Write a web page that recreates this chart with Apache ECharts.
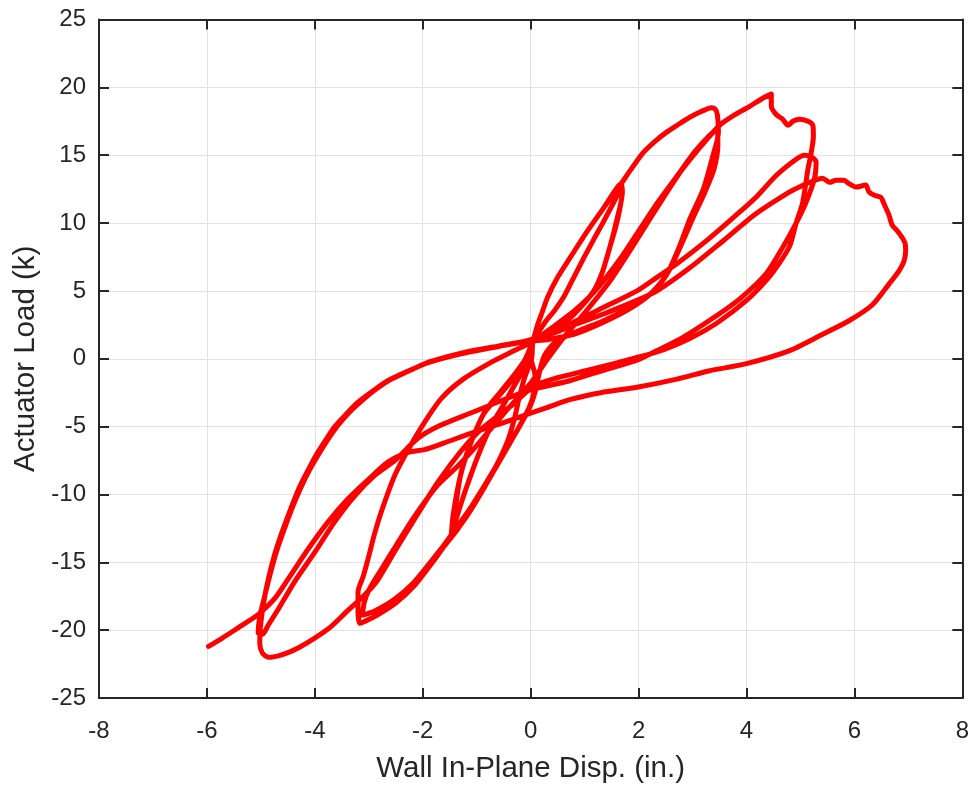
<!DOCTYPE html>
<html>
<head>
<meta charset="utf-8">
<script src="https://cdn.jsdelivr.net/npm/echarts@6/dist/echarts.min.js"></script>
<style>
html,body{margin:0;padding:0;background:#fff;}
#chart{width:972px;height:789px;}
</style>
</head>
<body>
<div id="chart"></div>
<script>
// ---- Axis ticks ----
const xTicks = [-8, -6, -4, -2, 0, 2, 4, 6, 8];
const yTicks = [-25, -20, -15, -10, -5, 0, 5, 10, 15, 20, 25];

// ---- Hysteresis branches [displacement (in.), load (k)] in test order ----
const c1LoadA = [[0,0],[0.03,1.0],[0.12,2.4],[0.22,3.5],[0.31,4.5],[0.5,6.0],[0.74,7.5],[1.05,9.4],[1.35,11.1],[1.6,12.6],[1.68,12.9]];
const c1UnloadA = [[1.7,12.3],[1.65,11.0],[1.57,9.6],[1.48,8.4],[1.33,6.4],[1.17,5.0],[0.95,3.9],[0.7,2.9],[0.4,2.1],[0.15,1.5],[0.02,1.2],[0,0.1]];
const c1NegA = [[-0.25,-1.6],[-0.49,-3.3],[-0.74,-5.0],[-0.98,-7.2],[-1.2,-9.6],[-1.38,-11.8],[-1.47,-13.0]];
const c1ReloadA = [[-1.45,-12.0],[-1.41,-11.3],[-1.29,-8.4],[-1.11,-6.2],[-0.86,-4.0],[-0.55,-2.55],[-0.25,-1.1],[-0.06,0.3],[0.03,1.2]];
const c1LoadB = [[0.25,2.6],[0.45,3.6],[0.62,4.6],[0.8,6.0],[0.98,7.4],[1.17,8.8],[1.35,10.1],[1.6,12.0],[1.67,12.7]];
const c1UnloadB = [[1.69,12.0],[1.6,10.3],[1.48,8.4],[1.33,6.4],[1.17,5.0],[0.9,3.7],[0.6,2.6],[0.3,1.8],[0.05,1.3],[0.02,0.1]];
const c1NegB = [[-0.12,-1.5],[-0.22,-3.0],[-0.3,-4.4],[-0.42,-6.0],[-0.64,-7.9],[-0.9,-9.7],[-1.17,-11.4],[-1.36,-12.6],[-1.47,-13.1]];
const c1ReloadB = [[-1.44,-11.6],[-1.3,-8.6],[-1.1,-6.1],[-0.85,-3.9],[-0.55,-2.4],[-0.25,-0.9],[0,0.6],[0.05,1.3]];

const c2LoadA = [[0.12,2.4],[0.22,3.5],[0.31,4.5],[0.5,6.0],[0.74,7.5],[1.05,9.4],[1.35,11.1],[1.66,12.8],[1.85,13.9],[2.09,15.2],[2.3,16.0],[2.52,16.7],[2.75,17.3],[2.95,17.8],[3.15,18.2],[3.35,18.5],[3.42,18.4]];
const c2UnloadA = [[3.46,18.0],[3.48,16.7],[3.38,15.0],[3.2,12.5],[2.95,10.3],[2.75,8.2],[2.52,6.2],[2.2,4.7],[1.8,3.6],[1.3,2.6],[0.8,1.8],[0.3,1.4],[0.02,1.2],[0.01,0.0]];
const c2NegA = [[0.08,-1.2],[0.06,-2.5],[-0.04,-3.7],[-0.31,-5.7],[-0.6,-7.7],[-0.86,-9.5],[-1.15,-11.4],[-1.4,-12.8],[-1.6,-13.8],[-1.78,-14.8],[-2.15,-16.7],[-2.5,-18.0],[-2.85,-18.9],[-3.1,-19.4],[-3.17,-19.5]];
const c2ReloadA = [[-3.2,-18.5],[-3.2,-17.2],[-3.1,-16.0],[-3.01,-14.7],[-2.9,-13.0],[-2.77,-11.3],[-2.52,-8.6],[-2.27,-6.7],[-1.97,-4.7],[-1.65,-2.9],[-1.25,-1.5],[-0.75,-0.3],[-0.3,0.6],[0.05,1.3]];
const c2LoadB = [[0.4,2.3],[0.8,3.5],[1.1,4.6],[1.4,6.0],[1.7,7.6],[2.0,9.4],[2.35,11.5],[2.7,13.4],[3.05,15.3],[3.3,16.4],[3.45,16.9]];
const c2UnloadB = [[3.47,15.8],[3.4,14.0],[3.22,12.2],[3.0,10.3],[2.78,8.3],[2.55,6.4],[2.25,4.9],[1.85,3.8],[1.35,2.8],[0.85,2.0],[0.45,1.2],[0.25,0.2]];
const c2NegB = [[0.15,-1.2],[0.08,-2.5],[-0.02,-3.6],[-0.28,-5.5],[-0.58,-7.5],[-0.85,-9.3],[-1.15,-11.2],[-1.42,-12.7],[-1.62,-13.8],[-1.8,-14.7],[-2.17,-16.5],[-2.55,-17.8],[-2.9,-18.6],[-3.12,-18.9]];

const c3LoadA = [[-3.08,-17.9],[-2.98,-16.9],[-2.75,-15.4],[-2.5,-13.8],[-2.15,-11.6],[-1.72,-9.3],[-1.35,-7.9],[-1.0,-6.4],[-0.49,-4.0],[0,-1.8],[0.3,-0.1],[0.62,1.6],[0.92,3.0],[1.23,4.5],[1.5,5.9],[1.78,7.6],[2.1,9.6],[2.45,11.8],[2.8,13.9],[3.1,15.4],[3.5,17.2],[3.75,17.9],[4.06,18.6],[4.3,19.2],[4.46,19.5]];
const c3PeakA = [[4.46,18.6],[4.55,18.0],[4.67,17.65],[4.77,17.2],[4.86,17.5],[4.98,17.65],[5.14,17.5],[5.23,17.2],[5.24,16.4],[5.2,15.2],[5.14,14.0]];
const c3UnloadA = [[5.04,11.5],[4.92,10.0],[4.8,8.3],[4.6,7.0],[4.37,5.8],[4.0,4.3],[3.44,2.6],[2.95,1.5],[2.34,0.5],[1.6,-0.3],[1.0,-0.9],[0.5,-1.4],[0.06,-2.0],[-0.31,-3.3],[-0.92,-5.2],[-1.29,-6.8],[-1.72,-9.1],[-2.15,-11.8],[-2.52,-14.2],[-2.85,-16.4],[-3.1,-17.5],[-3.4,-18.6],[-3.75,-19.9],[-4.3,-21.3],[-4.6,-21.8],[-4.86,-22.0],[-4.97,-21.7],[-5.02,-21.0]];
const c3ReloadA = [[-5.01,-19.8],[-4.95,-18.0],[-4.86,-16.2],[-4.75,-14.5],[-4.61,-12.8],[-4.45,-11.1],[-4.3,-9.6],[-4.15,-8.4],[-3.99,-7.2],[-3.8,-6.0],[-3.63,-5.0],[-3.4,-4.0],[-3.2,-3.2],[-2.9,-2.3],[-2.64,-1.6],[-2.21,-0.8],[-1.91,-0.3],[-1.29,0.36],[-0.6,0.9],[-0.06,1.34]];
const c3LoadB = [[0.74,2.6],[1.41,3.9],[1.97,5.0],[2.34,6.0],[2.71,7.0],[3.26,8.7],[3.87,10.8],[4.2,12.0],[4.55,13.5],[4.92,14.7],[5.07,15.0],[5.2,14.9],[5.29,14.5]];
const c3UnloadB = [[5.26,13.3],[5.1,11.5],[4.92,10.0],[4.67,8.2],[4.37,6.3],[3.87,4.4],[3.38,3.0],[2.83,1.6],[2.34,0.6],[1.97,-0.1],[1.35,-0.85],[0.74,-1.6],[0,-2.3],[-0.49,-3.0],[-1.11,-4.0],[-1.72,-5.0],[-2.1,-5.9],[-2.52,-7.5],[-2.89,-8.6],[-3.26,-10.1],[-3.63,-12.0],[-3.99,-14.2],[-4.37,-16.4],[-4.67,-18.4],[-4.86,-19.6],[-4.97,-20.3],[-5.05,-20.2]];
const c3ReloadB = [[-5.02,-19.0],[-4.93,-17.5],[-4.83,-15.9],[-4.71,-14.2],[-4.57,-12.6],[-4.41,-10.9],[-4.26,-9.5],[-4.1,-8.2],[-3.94,-7.1],[-3.75,-5.9],[-3.57,-4.9],[-3.35,-3.9],[-3.13,-3.1],[-2.85,-2.2],[-2.58,-1.5],[-2.15,-0.7],[-1.85,-0.2],[-1.25,0.45],[-0.58,0.95],[-0.03,1.35]];

const c4Load = [[0.5,2.0],[0.74,2.4],[1.35,3.3],[1.97,4.3],[2.34,5.0],[2.95,6.7],[3.57,8.7],[4.18,10.7],[4.8,12.3],[5.0,12.7],[5.17,13.0],[5.41,13.3],[5.54,13.0],[5.66,13.15],[5.81,13.15],[5.9,12.9],[6.03,12.65],[6.21,12.8],[6.27,12.3],[6.37,12.05],[6.49,11.9],[6.55,11.4],[6.64,10.6],[6.7,9.85],[6.8,9.4],[6.89,8.9],[6.94,8.5],[6.95,8.0]];
const c4Unload = [[6.92,7.2],[6.83,6.5],[6.64,5.5],[6.34,4.0],[5.9,2.8],[5.41,1.8],[4.8,0.6],[4.0,-0.36],[3.3,-0.9],[2.71,-1.5],[1.97,-2.1],[1.3,-2.5],[0.74,-3.0],[0.3,-3.6],[0,-4.0],[-0.5,-4.7],[-1.11,-5.5],[-1.6,-6.2],[-1.97,-6.7],[-2.27,-6.9],[-2.64,-7.6],[-3.01,-8.9],[-3.38,-10.3],[-3.75,-12.0],[-4.12,-14.0],[-4.49,-16.2],[-4.73,-17.6],[-4.95,-18.5],[-5.1,-19.0],[-5.41,-19.8],[-5.72,-20.6],[-5.97,-21.2]];

const branches = [
  c1LoadA, c1UnloadA, c1NegA, c1ReloadA, c1LoadB, c1UnloadB, c1NegB, c1ReloadB,
  c2LoadA, c2UnloadA, c2NegA, c2ReloadA, c2LoadB, c2UnloadB, c2NegB,
  c3LoadA, c3PeakA, c3UnloadA, c3ReloadA, c3LoadB, c3UnloadB, c3ReloadB,
  c4Load, c4Unload
];
const path = [].concat(...branches);

const TEXT = '#262626';
const FONT = "'Liberation Sans', Arial, Helvetica, sans-serif";

const chart = echarts.init(document.getElementById('chart'), null, {renderer: 'canvas'});
const frameAxis = (extra) => Object.assign({
  type: 'value',
  axisLine: {show: true, onZero: false, lineStyle: {color: TEXT, width: 2}},
  axisTick: {show: true, inside: true, length: 10, lineStyle: {color: TEXT, width: 2}},
  axisLabel: {show: false},
  splitLine: {show: false}
}, extra);

chart.setOption({
  animation: false,
  backgroundColor: '#ffffff',
  grid: {left: 99, right: 6, top: 19.5, bottom: 84.5, containLabel: false},
  xAxis: [
    {
      type: 'value', min: xTicks[0], max: xTicks[xTicks.length - 1], interval: 2,
      position: 'bottom',
      name: 'Wall In-Plane Disp. (in.)', nameLocation: 'middle', nameGap: 56,
      nameTextStyle: {fontSize: 29.5, color: TEXT, fontFamily: FONT},
      axisLine: {show: true, onZero: false, lineStyle: {color: TEXT, width: 2}},
      axisTick: {show: true, inside: true, length: 10, lineStyle: {color: TEXT, width: 2}},
      axisLabel: {show: true, fontSize: 24, color: TEXT, fontFamily: FONT, margin: 21, showMinLabel: true, showMaxLabel: true},
      splitLine: {show: true, lineStyle: {color: '#e2e2e2', width: 1}}
    },
    frameAxis({min: xTicks[0], max: xTicks[xTicks.length - 1], interval: 2, position: 'top'})
  ],
  yAxis: [
    {
      type: 'value', min: yTicks[0], max: yTicks[yTicks.length - 1], interval: 5,
      position: 'left',
      name: 'Actuator Load (k)', nameLocation: 'middle', nameGap: 58,
      nameTextStyle: {fontSize: 29.5, color: TEXT, fontFamily: FONT},
      axisLine: {show: true, onZero: false, lineStyle: {color: TEXT, width: 2}},
      axisTick: {show: true, inside: true, length: 10, lineStyle: {color: TEXT, width: 2}},
      axisLabel: {show: true, fontSize: 24, color: TEXT, fontFamily: FONT, margin: 13, showMinLabel: true, showMaxLabel: true},
      splitLine: {show: true, lineStyle: {color: '#e2e2e2', width: 1}}
    },
    frameAxis({min: yTicks[0], max: yTicks[yTicks.length - 1], interval: 5, position: 'right'})
  ],
  series: [{
    type: 'line',
    xAxisIndex: 0, yAxisIndex: 0,
    data: path,
    showSymbol: false,
    smooth: 0.25,
    lineStyle: {color: '#ff0000', width: 5, cap: 'round', join: 'round'},
    z: 5
  }]
});
</script>
</body>
</html>
